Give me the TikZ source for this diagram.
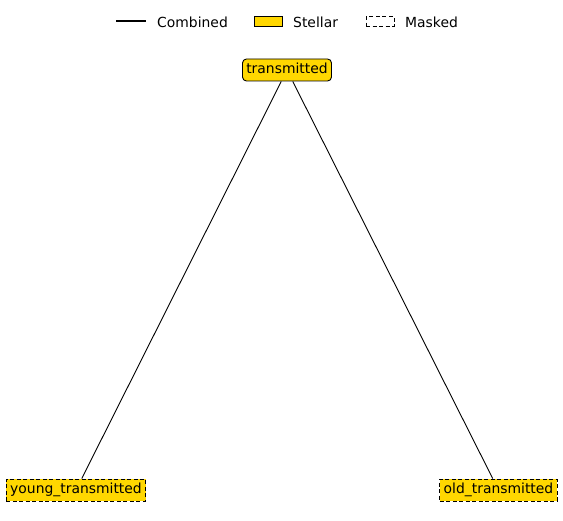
\documentclass[tikz,border=0pt]{standalone}
\usepackage{fontspec}
\setmainfont{DejaVu Sans}
\definecolor{gold}{HTML}{FFD700}
\begin{document}
\begin{tikzpicture}[x=1pt,y=-1pt,
  every node/.style={font=\fontsize{13.9}{15}\selectfont},
  stellar/.style={draw=black,fill=gold,line width=0.9pt,inner xsep=3.8pt,inner ysep=0pt,minimum height=22pt,text height=10.5pt,text depth=3pt},
  rootbox/.style={stellar,rounded corners=4pt},
  maskbox/.style={stellar,dashed,dash pattern=on 4pt off 2.5pt},
  edge/.style={draw=black,line width=0.9pt},
  lbl/.style={anchor=west,inner sep=0pt}]
\useasboundingbox (0,0) rectangle (563,521);
% legend
\coordinate (l1a) at (116,21);
\coordinate (l1b) at (146,21);
\draw[line width=1.5pt] (l1a) -- (l1b);
\node[lbl] (lt1) at (157,22) {Combined};
\node[draw=black,fill=gold,line width=0.9pt,minimum width=28pt,minimum height=9.5pt,inner sep=0pt] (lp2) at (268,21.5) {};
\node[lbl] (lt2) at (293,22) {Stellar};
\node[draw=black,dashed,dash pattern=on 4pt off 2.5pt,line width=0.9pt,minimum width=28pt,minimum height=9.5pt,inner sep=0pt] (lp3) at (380,21.5) {};
\node[lbl] (lt3) at (405,22) {Masked};
% nodes
\node[rootbox] (t) at (287,70) {transmitted};
\node[maskbox] (y) at (76,490) {young\_transmitted};
\node[maskbox] (o) at (498.5,490) {old\_transmitted};
% edges
\draw[edge] (t) -- (y);
\draw[edge] (t) -- (o);
\end{tikzpicture}
\end{document}
